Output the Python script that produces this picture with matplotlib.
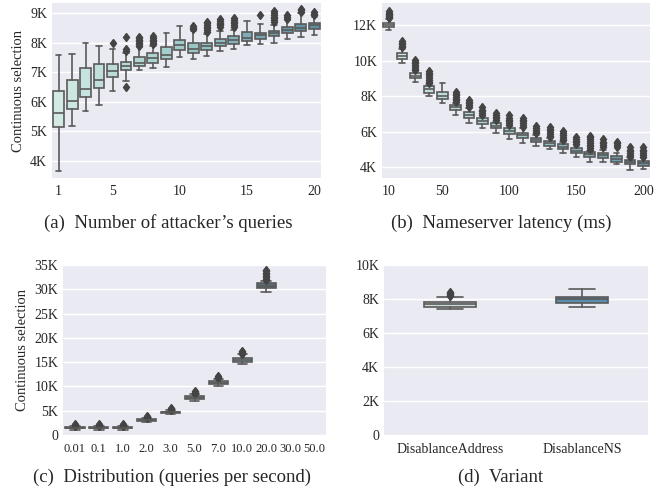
import matplotlib
matplotlib.use("Agg")
import matplotlib.pyplot as plt
import seaborn as sns
from matplotlib.colors import LinearSegmentedColormap
from matplotlib.ticker import FuncFormatter

# (a) number of attacker's queries
a_labels = [str(i) for i in range(1, 21)]
a_lo  = [3670, 5190, 5700, 5900, 6350, 6690, 7090, 7125, 7170, 7510, 7430, 7540, 7700, 7790, 7905, 7965, 8000, 8110, 8190, 8270]
a_q1  = [5160, 5740, 6170, 6470, 6820, 7080, 7200, 7320, 7450, 7760, 7660, 7760, 7870, 7960, 8050, 8130, 8240, 8320, 8380, 8470]
a_med = [5620, 6010, 6440, 6730, 7030, 7200, 7300, 7490, 7570, 7930, 7790, 7880, 7990, 8100, 8150, 8250, 8320, 8440, 8500, 8580]
a_q3  = [6360, 6750, 7140, 7260, 7290, 7360, 7510, 7640, 7850, 8100, 7990, 8000, 8110, 8210, 8360, 8340, 8390, 8520, 8640, 8680]
a_hi  = [7590, 7620, 8000, 7880, 7790, 7640, 7850, 7900, 8340, 8570, 8380, 8300, 8390, 8440, 8730, 8640, 8580, 8750, 9000, 8860]
a_fliers = [[], [], [], [], [7990], [6490, 7720, 7780, 8200],
            [7900, 7950, 8000, 8050, 8100, 8150, 8200],
            [7950, 8000, 8050, 8100, 8150, 8220], [], [],
            [8450, 8500, 8550],
            [8360, 8420, 8480, 8540, 8600, 8650, 8700],
            [8530, 8580, 8630, 8680, 8730, 8790],
            [8530, 8590, 8650, 8710, 8770, 8840], [], [8920],
            [8700, 8760, 8820, 8880, 8940, 9000, 9060],
            [8810, 8870, 8940], [9030, 9090, 9150], [8920, 8980, 9050]]

# (b) nameserver latency (ms)
b_labels = [str(i) for i in range(10, 201, 10)]
b_lo  = [11720, 9880, 8780, 8010, 7600, 6940, 6510, 6200, 5950, 5580, 5390, 5200, 5020, 4790, 4570, 4320, 4320, 4180, 3850, 3890]
b_q1  = [11900, 10070, 9010, 8200, 7840, 7230, 6790, 6440, 6200, 5880, 5670, 5410, 5200, 5020, 4790, 4600, 4550, 4320, 4180, 4080]
b_med = [12000, 10260, 9150, 8390, 8030, 7380, 6940, 6610, 6330, 6060, 5820, 5540, 5350, 5160, 4940, 4740, 4700, 4460, 4290, 4230]
b_q3  = [12100, 10410, 9290, 8570, 8220, 7510, 7100, 6760, 6480, 6200, 5950, 5670, 5480, 5300, 5070, 4850, 4830, 4640, 4420, 4360]
b_hi  = [12320, 10640, 9400, 8650, 8730, 7640, 7320, 6890, 6570, 6330, 6200, 5820, 5630, 5440, 5220, 4900, 4980, 4830, 4570, 4510]
b_fliers = [[12380, 12440, 12500, 12560, 12620, 12700, 12780],
            [10780, 10850, 10930, 11000, 11080],
            [9450, 9550, 9650, 9750, 9850, 9950, 10050],
            [8720, 8820, 8920, 9020, 9120, 9220, 9320, 9420],
            [],
            [7690, 7780, 7870, 7960, 8050, 8150, 8230],
            [7410, 7500, 7600, 7700, 7800],
            [6950, 7050, 7150, 7250, 7400],
            [6660, 6750, 6850, 6950, 7080],
            [6380, 6480, 6580, 6680, 6780, 6950],
            [6290, 6380, 6480, 6580, 6680, 6780],
            [5920, 6000, 6100, 6200, 6300],
            [5690, 5780, 5880, 5980, 6080, 6180, 6280],
            [5540, 5620, 5720, 5820, 5920, 6050],
            [5310, 5400, 5500, 5600, 5720],
            [4980, 5080, 5180, 5280, 5380, 5480, 5580, 5680, 5780],
            [5160, 5250, 5350, 5450, 5580],
            [5160, 5250, 5350, 5420],
            [4600, 4700, 4800, 4900, 5000, 5120],
            [4600, 4700, 4800, 4900, 5000, 5120]]

# (c) distribution (queries per second); 30.0 and 50.0 have no data
c_labels = ["0.01", "0.1", "1.0", "2.0", "3.0", "5.0", "7.0", "10.0", "20.0", "30.0", "50.0"]
c_lo  = [1050, 1050, 1050, 2750, 4350, 7070, 10150, 14620, 29380]
c_q1  = [1380, 1380, 1380, 2950, 4550, 7360, 10430, 14970, 30200]
c_med = [1500, 1500, 1500, 3080, 4670, 7690, 10770, 15440, 30740]
c_q3  = [1620, 1620, 1620, 3220, 4800, 8100, 11120, 15920, 31230]
c_hi  = [1850, 1850, 1850, 3500, 5150, 8380, 11530, 16620, 31700]
c_fliers = [[1950, 2050, 2150, 2250], [1950, 2050, 2150, 2250], [1950, 2050, 2150, 2250],
            [3600, 3700, 3800, 3950], [5250, 5350, 5450, 5620],
            [8480, 8580, 8700, 8850, 9000], [11650, 11800, 11950, 12150],
            [16750, 16900, 17100, 17300],
            [31900, 32200, 32500, 32800, 33100, 33400, 33700, 34000]]

# (d) variant
d_labels = ["DisablanceAddress", "DisablanceNS"]
d_lo  = [7390, 7550]
d_q1  = [7550, 7745]
d_med = [7690, 7980]
d_q3  = [7820, 8140]
d_hi  = [8140, 8590]
d_fliers = [[8200, 8260, 8320, 8380, 8440], []]

sns.set_theme(style="darkgrid")
plt.rcParams["font.family"] = ["Liberation Serif", "DejaVu Serif"]

LINE = "#5a5a5a"


def kfmt(v, pos):
    if v == 0:
        return "0"
    return f"{int(round(v / 1000))}K"


def draw(ax, lo, q1, med, q3, hi, fliers, colors, width=0.8, pad=4):
    stats = []
    for i in range(len(med)):
        stats.append({"whislo": lo[i], "q1": q1[i], "med": med[i],
                      "q3": q3[i], "whishi": hi[i], "fliers": fliers[i]})
    bp = ax.bxp(stats, positions=range(len(med)), widths=width,
                patch_artist=True, manage_ticks=False,
                boxprops=dict(edgecolor=LINE, linewidth=1.2),
                medianprops=dict(color=LINE, linewidth=1.2),
                whiskerprops=dict(color=LINE, linewidth=1.2),
                capprops=dict(color=LINE, linewidth=1.2),
                flierprops=dict(marker="d", markerfacecolor="#444444",
                                markeredgecolor="#444444", markersize=4.5))
    for patch, c in zip(bp["boxes"], colors):
        patch.set_facecolor(c)
    ax.yaxis.set_major_formatter(FuncFormatter(kfmt))
    ax.xaxis.grid(False)
    ax.tick_params(axis="both", labelsize=10, length=0)
    ax.tick_params(axis="x", pad=pad)
    for s in ax.spines.values():
        s.set_visible(False)


fig = plt.figure(figsize=(6.6, 4.9), dpi=100)

cmap_ab = LinearSegmentedColormap.from_list("ab", ["#d2e9e4", "#9ccaca", "#5b8ea3"])

ax_a = fig.add_axes([52 / 660, 1 - 178 / 490, 269 / 660, 175 / 490])
draw(ax_a, a_lo, a_q1, a_med, a_q3, a_hi, a_fliers,
     [cmap_ab(i / 19) for i in range(20)], pad=5)
ax_a.set_xlim(-0.5, 19.5)
ax_a.set_ylim(3420, 9340)
ax_a.set_yticks([4000, 5000, 6000, 7000, 8000, 9000])
ax_a.set_xticks([0, 4, 9, 14, 19])
ax_a.set_xticklabels([a_labels[i] for i in [0, 4, 9, 14, 19]])
ax_a.set_ylabel("Continuous selection", fontsize=10.5)

ax_b = fig.add_axes([382 / 660, 1 - 178 / 490, 268 / 660, 175 / 490])
draw(ax_b, b_lo, b_q1, b_med, b_q3, b_hi, b_fliers,
     [cmap_ab(i / 19 * 0.95) for i in range(20)], pad=5)
ax_b.set_xlim(-0.5, 19.5)
ax_b.set_ylim(3400, 13240)
ax_b.set_yticks([4000, 6000, 8000, 10000, 12000])
ax_b.set_xticks([0, 4, 9, 14, 19])
ax_b.set_xticklabels([b_labels[i] for i in [0, 4, 9, 14, 19]])

c_colors = ["#3f5a63", "#3f5a63", "#3f5a63", "#4b6b75", "#4b6b75", "#6c8d96",
            "#6f95a0", "#7db3c4", "#556f78"]
ax_c = fig.add_axes([63 / 660, 1 - 435 / 490, 263 / 660, 170 / 490])
draw(ax_c, c_lo, c_q1, c_med, c_q3, c_hi, c_fliers, c_colors, pad=6)
ax_c.set_xlim(-0.5, 10.5)
ax_c.set_ylim(0, 35000)
ax_c.set_yticks(range(0, 35001, 5000))
ax_c.set_xticks(range(len(c_labels)))
ax_c.set_xticklabels(c_labels)
ax_c.tick_params(axis="x", labelsize=9)
ax_c.set_ylabel("Continuous selection", fontsize=10.5)

ax_d = fig.add_axes([384 / 660, 1 - 435 / 490, 264 / 660, 170 / 490])
draw(ax_d, d_lo, d_q1, d_med, d_q3, d_hi, d_fliers, ["#c8dcd5", "#5b8eab"],
     width=0.4, pad=6)
ax_d.set_xlim(-0.5, 1.5)
ax_d.set_ylim(0, 10000)
ax_d.set_yticks(range(0, 10001, 2000))
ax_d.set_xticks([0, 1])
ax_d.set_xticklabels(d_labels)

# sub-captions
fig.text(168 / 660, 1 - 223 / 490, "(a)  Number of attacker\u2019s queries",
         ha="center", va="center", fontsize=13.5)
fig.text(501 / 660, 1 - 223 / 490, "(b)  Nameserver latency (ms)",
         ha="center", va="center", fontsize=13.5)
fig.text(172 / 660, 1 - 477 / 490, "(c)  Distribution (queries per second)",
         ha="center", va="center", fontsize=13.5)
fig.text(501 / 660, 1 - 477 / 490, "(d)  Variant",
         ha="center", va="center", fontsize=13.5)

fig.savefig("out.png", dpi=100)
